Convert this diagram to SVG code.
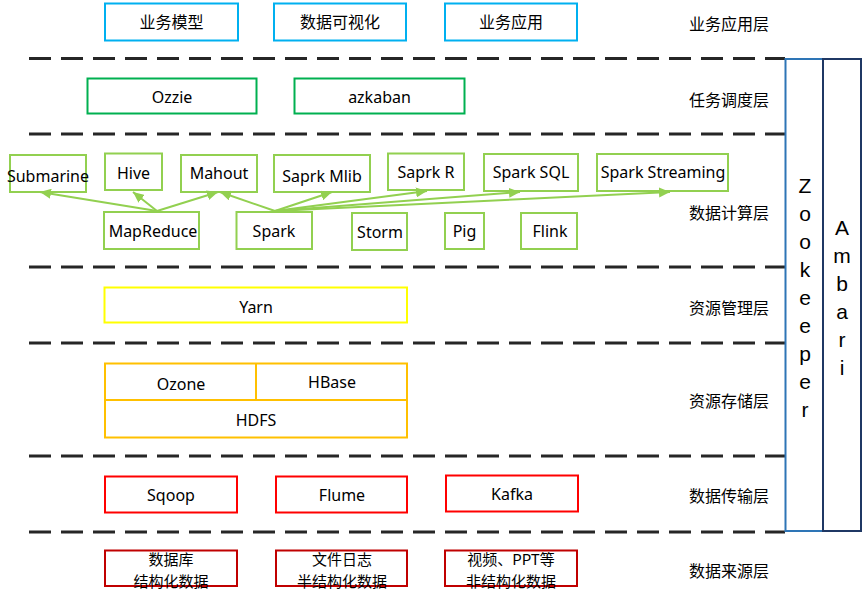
<svg xmlns="http://www.w3.org/2000/svg" width="863" height="593" viewBox="0 0 863 593">
<defs>
<style>
text{font-family:"Noto Sans","Noto Sans CJK SC",sans-serif;font-size:16px;fill:#000;text-anchor:middle}
.cjk{font-family:"Noto Sans CJK SC","Noto Sans",sans-serif}
.two{font-size:15px}
.box{fill:#fff;stroke-width:2}
.blue{stroke:#00B0F0}
.dgreen{stroke:#00B050}
.lgreen{stroke:#92D050}
.yellow{stroke:#FFFF00}
.orange{stroke:#FFC000}
.red{stroke:#FF0000}
.dred{stroke:#C00000}
.dash{stroke:#262626;stroke-width:3;stroke-dasharray:22 10;fill:none}
.arrow{stroke:#92D050;stroke-width:2;fill:none;marker-end:url(#ah)}
.vert{font-family:"Liberation Sans",Arial,sans-serif;font-size:21px}
</style>
<marker id="ah" markerUnits="userSpaceOnUse" markerWidth="12" markerHeight="10" refX="11" refY="5" orient="auto">
<path d="M0,0 L11,5 L0,10 z" fill="#92D050"/>
</marker>
</defs>
<rect width="863" height="593" fill="#fff"/>

<g id="separators">
<line class="dash" x1="29" y1="58.5" x2="785" y2="58.5"/>
<line class="dash" x1="29" y1="134" x2="785" y2="134"/>
<line class="dash" x1="29" y1="267" x2="785" y2="267"/>
<line class="dash" x1="29" y1="343" x2="785" y2="343"/>
<line class="dash" x1="29" y1="456" x2="785" y2="456"/>
<line class="dash" x1="29" y1="532" x2="785" y2="532"/>
</g>

<g id="layer-labels">
<text class="cjk" x="729" y="30">业务应用层</text>
<text class="cjk" x="729" y="106">任务调度层</text>
<text class="cjk" x="729" y="219">数据计算层</text>
<text class="cjk" x="729" y="314">资源管理层</text>
<text class="cjk" x="729" y="407">资源存储层</text>
<text class="cjk" x="729" y="502">数据传输层</text>
<text class="cjk" x="729" y="577">数据来源层</text>
</g>

<g id="biz-model"><rect class="box blue" x="105" y="3.5" width="133" height="37"/><text class="cjk" x="171.5" y="28">业务模型</text></g>
<g id="data-vis"><rect class="box blue" x="274" y="3.5" width="132" height="37"/><text class="cjk" x="340" y="28">数据可视化</text></g>
<g id="biz-app"><rect class="box blue" x="445" y="3.5" width="132" height="37"/><text class="cjk" x="511" y="28">业务应用</text></g>

<g id="ozzie"><rect class="box dgreen" x="87.5" y="78.5" width="169" height="35"/><text x="172" y="103">Ozzie</text></g>
<g id="azkaban"><rect class="box dgreen" x="294.5" y="78.5" width="170" height="35"/><text x="379.5" y="103">azkaban</text></g>

<g id="submarine"><rect class="box lgreen" x="10" y="155" width="76" height="37"/><text x="48" y="182">Submarine</text></g>
<g id="hive"><rect class="box lgreen" x="105" y="153.5" width="57" height="36.5"/><text x="133.5" y="179">Hive</text></g>
<g id="mahout"><rect class="box lgreen" x="181" y="155" width="76" height="37"/><text x="219" y="179">Mahout</text></g>
<g id="mlib"><rect class="box lgreen" x="274" y="155" width="96" height="37"/><text x="322" y="182">Saprk Mlib</text></g>
<g id="sparkr"><rect class="box lgreen" x="388" y="153.5" width="76" height="36.5"/><text x="426" y="178">Saprk R</text></g>
<g id="sparksql"><rect class="box lgreen" x="484" y="154" width="94" height="37"/><text x="531" y="178">Spark SQL</text></g>
<g id="sparkstreaming"><rect class="box lgreen" x="597" y="154" width="131" height="37"/><text x="663" y="178">Spark Streaming</text></g>
<g id="mapreduce"><rect class="box lgreen" x="104" y="212" width="95" height="37"/><text x="153" y="237">MapReduce</text></g>
<g id="spark"><rect class="box lgreen" x="236.5" y="212" width="75.5" height="37"/><text x="274" y="237">Spark</text></g>
<g id="storm"><rect class="box lgreen" x="352" y="213" width="55" height="37"/><text x="380" y="238">Storm</text></g>
<g id="pig"><rect class="box lgreen" x="445" y="213" width="39" height="36"/><text x="464.5" y="237">Pig</text></g>
<g id="flink"><rect class="box lgreen" x="521" y="213" width="56" height="36"/><text x="550" y="237">Flink</text></g>

<g id="connectors">
<line class="arrow" x1="157" y1="211" x2="40" y2="192"/>
<line class="arrow" x1="157" y1="211" x2="133" y2="192"/>
<line class="arrow" x1="157" y1="211" x2="218" y2="192"/>
<line class="arrow" x1="275" y1="211" x2="220" y2="192"/>
<line class="arrow" x1="275" y1="211" x2="332" y2="192"/>
<line class="arrow" x1="275" y1="211" x2="427" y2="191"/>
<line class="arrow" x1="275" y1="211" x2="520" y2="192"/>
<line class="arrow" x1="275" y1="211" x2="670" y2="192"/>
</g>

<g id="yarn"><rect class="box yellow" x="104.5" y="287.5" width="302.5" height="35"/><text x="256" y="313">Yarn</text></g>

<g id="storage">
<rect class="box orange" x="105" y="363.5" width="302" height="74"/>
<line class="orange" stroke-width="2" x1="105" y1="400" x2="407" y2="400"/>
<line class="orange" stroke-width="2" x1="256" y1="363.5" x2="256" y2="400"/>
</g>
<g id="ozone"><text x="181" y="390">Ozone</text></g>
<g id="hbase"><text x="332" y="388">HBase</text></g>
<g id="hdfs"><text x="256" y="426">HDFS</text></g>

<g id="sqoop"><rect class="box red" x="105" y="476.5" width="132" height="36"/><text x="171" y="501">Sqoop</text></g>
<g id="flume"><rect class="box red" x="276" y="476.5" width="131" height="36"/><text x="342" y="501">Flume</text></g>
<g id="kafka"><rect class="box red" x="446" y="475.5" width="132" height="36"/><text x="512" y="500">Kafka</text></g>

<g id="structured"><rect class="box dred" x="105" y="550.5" width="132" height="35.5"/><text class="cjk two" x="171" y="565">数据库</text><text class="cjk two" x="171" y="587">结构化数据</text></g>
<g id="semistructured"><rect class="box dred" x="276" y="550.5" width="131" height="35.5"/><text class="cjk two" x="342" y="565">文件日志</text><text class="cjk two" x="342" y="587">半结构化数据</text></g>
<g id="unstructured"><rect class="box dred" x="445" y="550.5" width="132" height="35.5"/><text class="cjk two" x="511" y="565">视频、PPT等</text><text class="cjk two" x="511" y="587">非结构化数据</text></g>

<g id="zookeeper">
<rect x="785.5" y="59" width="37.5" height="472" fill="#fff" stroke="#2E75B6" stroke-width="2"/>
<text class="vert" x="805" y="193">Z</text>
<text class="vert" x="805" y="221">o</text>
<text class="vert" x="805" y="249">o</text>
<text class="vert" x="805" y="277">k</text>
<text class="vert" x="805" y="305">e</text>
<text class="vert" x="805" y="333">e</text>
<text class="vert" x="805" y="361">p</text>
<text class="vert" x="805" y="389">e</text>
<text class="vert" x="805" y="417">r</text>
</g>
<g id="ambari">
<rect x="823" y="59" width="38" height="472" fill="#fff" stroke="#1F3864" stroke-width="2"/>
<text class="vert" x="842" y="235">A</text>
<text class="vert" x="842" y="263">m</text>
<text class="vert" x="842" y="291">b</text>
<text class="vert" x="842" y="319">a</text>
<text class="vert" x="842" y="347">r</text>
<text class="vert" x="842" y="375">i</text>
</g>
</svg>
